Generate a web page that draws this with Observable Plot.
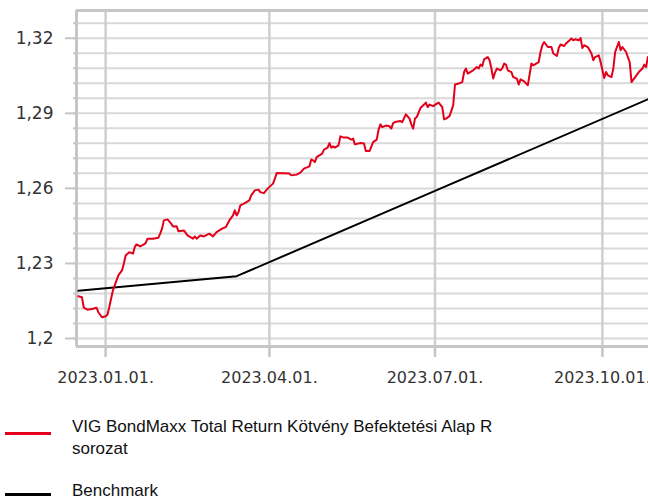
<!DOCTYPE html>
<html>
<head>
<meta charset="utf-8">
<script src="https://cdn.jsdelivr.net/npm/d3@7"></script>
<script src="https://cdn.jsdelivr.net/npm/@observablehq/plot@0.6"></script>
<style>
  html, body { margin: 0; padding: 0; background: #fff; }
  #wrap { position: relative; width: 648px; height: 499px; overflow: hidden; }
  #legend { position: relative; width: 648px; height: 109px; font-family: "Liberation Sans", Arial, sans-serif; font-size: 17px; color: #111; }
  .sw { position: absolute; left: 5px; width: 46px; height: 3px; }
  .lt { position: absolute; left: 72px; line-height: 22px; width: 560px; }
</style>
</head>
<body>
<div id="wrap">
  <div id="chart"></div>
  <div id="legend"></div>
</div>
<script>
// ---- data ----
const fundName = "VIG BondMaxx Total Return Kötvény Befektetési Alap R sorozat";
const benchName = "Benchmark";

const fundDates = [
"2022-12-17","2022-12-19","2022-12-20","2022-12-22","2022-12-25","2022-12-27","2022-12-28","2022-12-30",
"2023-01-01","2023-01-02","2023-01-03","2023-01-04","2023-01-05","2023-01-07","2023-01-08","2023-01-10",
"2023-01-11","2023-01-12","2023-01-14","2023-01-16","2023-01-17","2023-01-18","2023-01-20","2023-01-22",
"2023-01-23","2023-01-24","2023-01-27","2023-01-30","2023-01-31","2023-02-01","2023-02-02","2023-02-04",
"2023-02-06","2023-02-07","2023-02-09","2023-02-10","2023-02-13","2023-02-15","2023-02-18","2023-02-19",
"2023-02-20","2023-02-22","2023-02-24","2023-02-27","2023-03-01","2023-03-03","2023-03-06","2023-03-08",
"2023-03-10","2023-03-12","2023-03-13","2023-03-14","2023-03-15","2023-03-16","2023-03-18","2023-03-21",
"2023-03-22","2023-03-24","2023-03-26","2023-03-27","2023-03-29","2023-03-31","2023-04-03","2023-04-04",
"2023-04-05","2023-04-12","2023-04-13","2023-04-16","2023-04-18","2023-04-20","2023-04-23","2023-04-24",
"2023-04-25","2023-04-26","2023-04-27","2023-04-30","2023-05-01","2023-05-03","2023-05-04","2023-05-05",
"2023-05-06","2023-05-07","2023-05-09","2023-05-10","2023-05-12","2023-05-14","2023-05-16","2023-05-17",
"2023-05-18","2023-05-21","2023-05-23","2023-05-24","2023-05-26","2023-05-28","2023-05-30","2023-05-31",
"2023-06-01","2023-06-02","2023-06-04","2023-06-06","2023-06-07","2023-06-08","2023-06-09","2023-06-12",
"2023-06-13","2023-06-15","2023-06-17","2023-06-18","2023-06-19","2023-06-20","2023-06-21","2023-06-23",
"2023-06-25","2023-06-26","2023-06-27","2023-06-28","2023-06-30","2023-07-02","2023-07-03","2023-07-05",
"2023-07-06","2023-07-07","2023-07-09","2023-07-11","2023-07-12","2023-07-14","2023-07-16","2023-07-17",
"2023-07-18","2023-07-19","2023-07-21","2023-07-22","2023-07-24","2023-07-25","2023-07-26","2023-07-27",
"2023-07-28","2023-07-30","2023-07-31","2023-08-01","2023-08-02","2023-08-03","2023-08-04","2023-08-06",
"2023-08-07","2023-08-08","2023-08-09","2023-08-10","2023-08-12","2023-08-13","2023-08-15","2023-08-16",
"2023-08-17","2023-08-19","2023-08-21","2023-08-23","2023-08-24","2023-08-27","2023-08-28","2023-08-29",
"2023-08-30","2023-09-01","2023-09-03","2023-09-04","2023-09-06","2023-09-07","2023-09-08","2023-09-10",
"2023-09-11","2023-09-13","2023-09-14","2023-09-15","2023-09-16","2023-09-18","2023-09-19","2023-09-20",
"2023-09-21","2023-09-23","2023-09-25","2023-09-26","2023-09-27","2023-09-29","2023-09-30","2023-10-02",
"2023-10-03","2023-10-04","2023-10-06","2023-10-07","2023-10-08","2023-10-10","2023-10-11","2023-10-12",
"2023-10-14","2023-10-16","2023-10-17","2023-10-19","2023-10-21","2023-10-23","2023-10-24","2023-10-25",
"2023-10-26"];

const fundValues = [
1.2169,1.2165,1.2123,1.2115,1.2119,1.2123,1.2105,1.2085,
1.2089,1.2095,1.2125,1.2159,1.2192,1.2232,1.2252,1.2272,
1.2299,1.2332,1.2345,1.2339,1.2365,1.2376,1.2368,1.2376,
1.2381,1.2399,1.2399,1.2403,1.2419,1.2439,1.2472,1.2476,
1.2459,1.2448,1.2449,1.2429,1.2432,1.2412,1.2399,1.2408,
1.2399,1.2412,1.2408,1.2419,1.2408,1.2425,1.2439,1.2445,
1.2472,1.2492,1.2512,1.2492,1.2505,1.2532,1.2539,1.2552,
1.2572,1.2592,1.2595,1.2585,1.2581,1.2599,1.2619,1.2639,
1.2661,1.2659,1.2652,1.2655,1.2663,1.2679,1.2688,1.2715,
1.2712,1.2705,1.2725,1.2739,1.2755,1.2763,1.2781,1.2763,
1.2768,1.2763,1.2772,1.2808,1.2803,1.2803,1.2795,1.2799,
1.2776,1.2781,1.2779,1.2749,1.2749,1.2785,1.2795,1.2835,
1.2856,1.2845,1.2851,1.2848,1.2839,1.2861,1.2865,1.2869,
1.2865,1.2896,1.2879,1.2856,1.2839,1.2879,1.2885,1.2921,
1.2935,1.2943,1.2925,1.2935,1.2929,1.2939,1.2943,1.2925,
1.2876,1.2879,1.2889,1.2932,1.3015,1.3019,1.3025,1.3065,
1.3079,1.3059,1.3068,1.3072,1.3085,1.3079,1.3095,1.3089,
1.3116,1.3125,1.3112,1.3079,1.3039,1.3063,1.3079,1.3072,
1.3081,1.3099,1.3095,1.3072,1.3065,1.3045,1.3039,1.3015,
1.3036,1.3028,1.3012,1.3099,1.3092,1.3105,1.3145,1.3172,
1.3185,1.3165,1.3165,1.3139,1.3129,1.3161,1.3175,1.3169,
1.3179,1.3192,1.3199,1.3192,1.3196,1.3192,1.3201,1.3161,
1.3172,1.3165,1.3139,1.3112,1.3125,1.3132,1.3105,1.3041,
1.3065,1.3052,1.3045,1.3079,1.3145,1.3185,1.3152,1.3165,
1.3145,1.3105,1.3025,1.3045,1.3065,1.3079,1.3095,1.3085,
1.3125];

const benchDates = ["2022-12-17", "2023-03-14", "2023-07-01", "2023-10-26"];
const benchValues = [1.2191, 1.2249, 1.2590, 1.2956];

const yTickValues = [1.2, 1.23, 1.26, 1.29, 1.32];
const yGridValues = [1.2, 1.206, 1.212, 1.218, 1.224, 1.23, 1.236, 1.242, 1.248, 1.254, 1.26,
                     1.266, 1.272, 1.278, 1.284, 1.29, 1.296, 1.302, 1.308, 1.314, 1.32, 1.326];
const xTickDates = ["2023-01-01", "2023-04-01", "2023-07-01", "2023-10-01"];

const xDomain = ["2022-12-16T00:00:00Z", "2023-10-26T08:00:00Z"];
const yDomain = [1.1968, 1.3311];

// ---- build ----
const parse = s => new Date(s.length === 10 ? s + "T00:00:00Z" : s);
const fund = fundDates.map((d, i) => ({date: parse(d), value: fundValues[i]}));
const bench = benchDates.map((d, i) => ({date: parse(d), value: benchValues[i]}));
const xTicks = xTickDates.map(parse);
const xDom = xDomain.map(parse);

const RED = "#e2001a";
const GRID = "#d9d9d9";
const FRAME = "#c6c6c6";
const TXT = "#333333";

const chart = Plot.plot({
  width: 648,
  height: 390,
  marginLeft: 76,
  marginRight: 0,
  marginTop: 10,
  marginBottom: 44,
  style: {fontFamily: "DejaVu Sans, Verdana, sans-serif", background: "#fff", overflow: "visible"},
  x: {type: "utc", domain: xDom, label: null},
  y: {domain: yDomain, label: null},
  marks: [
    Plot.ruleY(yGridValues, {stroke: GRID, strokeWidth: 2}),
    Plot.ruleX(xTicks, {stroke: "#cfcfcf", strokeWidth: 2.5}),
    Plot.ruleX([xDom[0]], {stroke: FRAME, strokeWidth: 3}),
    Plot.ruleY(yDomain, {stroke: FRAME, strokeWidth: 3}),
    Plot.axisY(yGridValues, {tickSize: 3, tickFormat: () => "", stroke: FRAME, strokeWidth: 2, label: null}),
    Plot.axisY(yTickValues, {
      tickSize: 11, tickPadding: 12, stroke: FRAME, strokeWidth: 2,
      fill: TXT, fontSize: 17, label: null,
      tickFormat: d => String(d).replace(".", ",")
    }),
    Plot.axisX(xTicks, {
      tickSize: 11, tickPadding: 14, stroke: FRAME, strokeWidth: 2.5,
      fill: TXT, fontSize: 16, label: null,
      tickFormat: d3.utcFormat("%Y.%m.%d.")
    }),
    Plot.lineY(bench, {x: "date", y: "value", stroke: "#000", strokeWidth: 2}),
    Plot.lineY(fund, {x: "date", y: "value", stroke: RED, strokeWidth: 2})
  ]
});
document.getElementById("chart").appendChild(chart);

// legend
const legend = d3.select("#legend");
legend.append("div").attr("class", "sw").style("top", "41.5px").style("background", RED);
legend.append("div").attr("class", "lt").style("top", "26px").style("width", "450px").text(fundName);
legend.append("div").attr("class", "sw").style("top", "102.5px").style("background", "#000");
legend.append("div").attr("class", "lt").style("top", "90px").text(benchName);
</script>
</body>
</html>
